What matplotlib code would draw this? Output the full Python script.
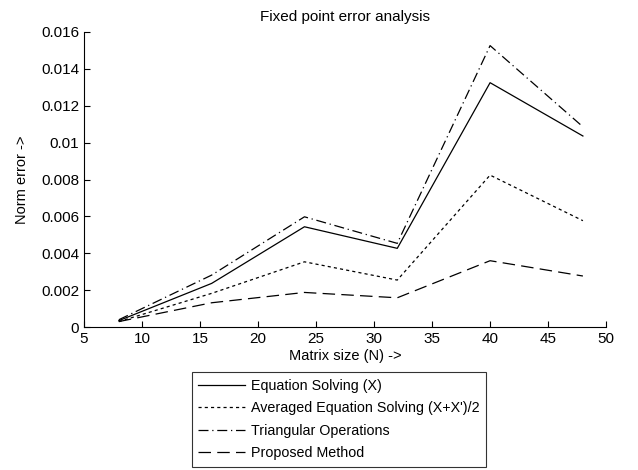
import matplotlib.pyplot as plt

plt.rcParams["font.family"] = ["Liberation Sans", "DejaVu Sans"]

matrix_size = [8, 16, 24, 32, 40, 48]
eq_solving = [0.00035, 0.00237, 0.00544, 0.00427, 0.01325, 0.01036]
avg_eq_solving = [0.0003, 0.00183, 0.00354, 0.00255, 0.00824, 0.00577]
triangular = [0.0004, 0.00282, 0.00598, 0.00454, 0.01526, 0.01086]
proposed = [0.0003, 0.00132, 0.00188, 0.00159, 0.0036, 0.00277]

labels = ["Equation Solving (X)", "Averaged Equation Solving (X+X')/2",
          "Triangular Operations", "Proposed Method"]

fig = plt.figure(figsize=(6.38, 4.70), dpi=100)
ax = fig.add_axes([0.1317, 0.304, 0.8183, 0.628])

ax.plot(matrix_size, eq_solving, color="k", lw=0.9, label=labels[0])
ax.plot(matrix_size, avg_eq_solving, color="k", lw=0.9, dashes=(2.5, 2.5), label=labels[1])
ax.plot(matrix_size, triangular, color="k", lw=0.9, dashes=(8, 3, 1, 3), label=labels[2])
ax.plot(matrix_size, proposed, color="k", lw=0.9, dashes=(10, 5), label=labels[3])

ax.set_xlim(5, 50)
ax.set_ylim(0, 0.016)
ax.set_xticks(range(5, 51, 5))
ax.set_yticks([0, 0.002, 0.004, 0.006, 0.008, 0.01, 0.012, 0.014, 0.016])
ax.set_yticklabels(["0", "0.002", "0.004", "0.006", "0.008", "0.01", "0.012", "0.014", "0.016"])
ax.tick_params(direction="in", length=4, labelsize=11, width=0.8)
ax.spines["top"].set_visible(False)
ax.spines["right"].set_visible(False)

ax.set_title("Fixed point error analysis", fontsize=11, pad=8)
ax.set_xlabel("Matrix size (N) ->", fontsize=10.5, labelpad=2)
ax.set_ylabel("Norm error ->", fontsize=10.5, labelpad=9)

leg = fig.legend(loc="upper left", bbox_to_anchor=(191.7 / 638, 1 - 372.3 / 470),
                 fontsize=10.3, frameon=True, fancybox=False, edgecolor="k",
                 handlelength=3.3, borderaxespad=0, labelspacing=0.6,
                 borderpad=0.45, handletextpad=0.4)
leg.get_frame().set_linewidth(0.8)

fig.savefig("out.png", dpi=100)
